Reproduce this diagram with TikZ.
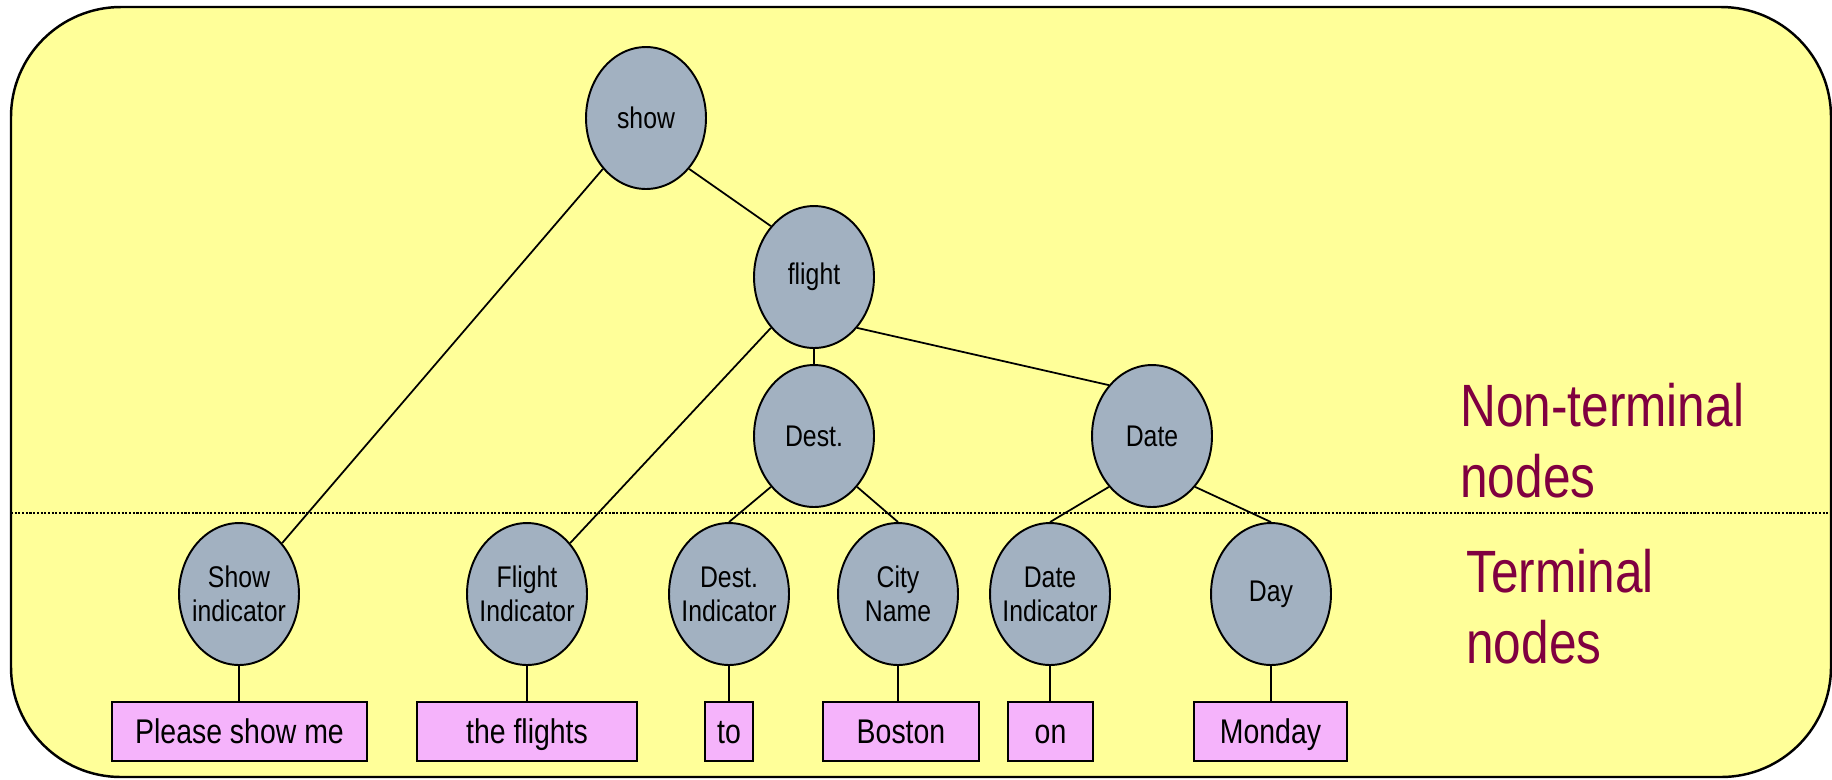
\documentclass[tikz,border=0pt]{standalone}
\usepackage{fontspec}
\setmainfont{Liberation Sans}
\newfontfamily\narrowfont[FakeStretch=0.83]{Liberation Sans}
\usepackage{tikz}
\usetikzlibrary{shapes.geometric}
\definecolor{bgyellow}{HTML}{FFFF99}
\definecolor{nodegray}{HTML}{A2B1C1}
\definecolor{wordpink}{HTML}{F5B3FB}
\definecolor{labelred}{HTML}{800040}
\tikzset{cat/.style={draw,ellipse,fill=nodegray,line width=1.1pt,inner xsep=-0.5cm,inner ysep=0pt,
    minimum width=2.4cm,minimum height=2.84cm,align=center,
    font=\narrowfont\fontsize{17}{19.3}\selectfont}}
\tikzset{word/.style={draw,rectangle,fill=wordpink,line width=1.1pt,inner sep=0pt,
    minimum height=1.18cm,text height=18pt,text depth=3.8pt,
    font=\narrowfont\fontsize{19.5}{22}\selectfont}}
\tikzset{side/.style={anchor=base west,inner sep=0pt,align=left,text=labelred,
    font=\narrowfont\fontsize{34}{40.3}\selectfont}}
\tikzset{arc/.style={line width=1pt}}

\begin{document}
\begin{tikzpicture}[x=0.02cm,y=-0.02cm]
		\useasboundingbox (0,0) rectangle (1832,779);
		\draw[fill=bgyellow,line width=1.4pt,rounded corners=2.2cm] (11,7) rectangle (1831,777);
		\draw[line width=1.6pt,dash pattern=on 1.2pt off 0.9pt] (11,513) -- (1832,513);
		
		\node[cat] (show) at (646,118) {show};
		\node[cat] (flight) at (814,277) {flight};
		\node[cat] (dest) at (814,436) {Dest.};
		\node[cat] (date) at (1152,436) {Date};
		
		\node[cat] (showind) at (239,594) {Show\\indicator};
		\node[cat] (flightind) at (527,594) {Flight\\Indicator};
		\node[cat] (destind) at (729,594) {Dest.\\Indicator};
		\node[cat] (city) at (898,594) {City\\Name};
		\node[cat] (dateind) at (1050,594) {Date\\Indicator};
		\node[cat] (day) at (1271,594) {Day};
		
		\node[word,minimum width=5.1cm] (w1) at (239.5,731.5) {Please show me};
		\node[word,minimum width=4.4cm] (w2) at (527,731.5) {the flights};
		\node[word,minimum width=0.96cm] (w3) at (729,731.5) {to};
		\node[word,minimum width=3.12cm] (w4) at (901,731.5) {Boston};
		\node[word,minimum width=1.7cm] (w5) at (1050.5,731.5) {on};
		\node[word,minimum width=3.06cm] (w6) at (1270.5,731.5) {Monday};
		
		\node[side] (nonterm) at (1460,497) {Non-terminal\\nodes};
		\node[side] (term) at (1466,663) {Terminal\\nodes};
		
		\draw[arc] (show.south west) -- (showind.north east);
		\draw[arc] (show.south east) -- (flight.north west);
		\draw[arc] (flight.south west) -- (flightind.north east);
		\draw[arc] (flight.south) -- (dest.north);
		\draw[arc] (flight.south east) -- (date.north west);
		\draw[arc] (dest.south west) -- (destind.north);
		\draw[arc] (dest.south east) -- (city.north);
		\draw[arc] (date.south west) -- (dateind.north);
		\draw[arc] (date.south east) -- (day.north);
		
		\draw[arc] (showind) -- (showind |- w1.north);
		\draw[arc] (flightind) -- (flightind |- w2.north);
		\draw[arc] (destind) -- (destind |- w3.north);
		\draw[arc] (city) -- (city |- w4.north);
		\draw[arc] (dateind) -- (dateind |- w5.north);
		\draw[arc] (day) -- (day |- w6.north);
		\end{tikzpicture}
\end{document}
